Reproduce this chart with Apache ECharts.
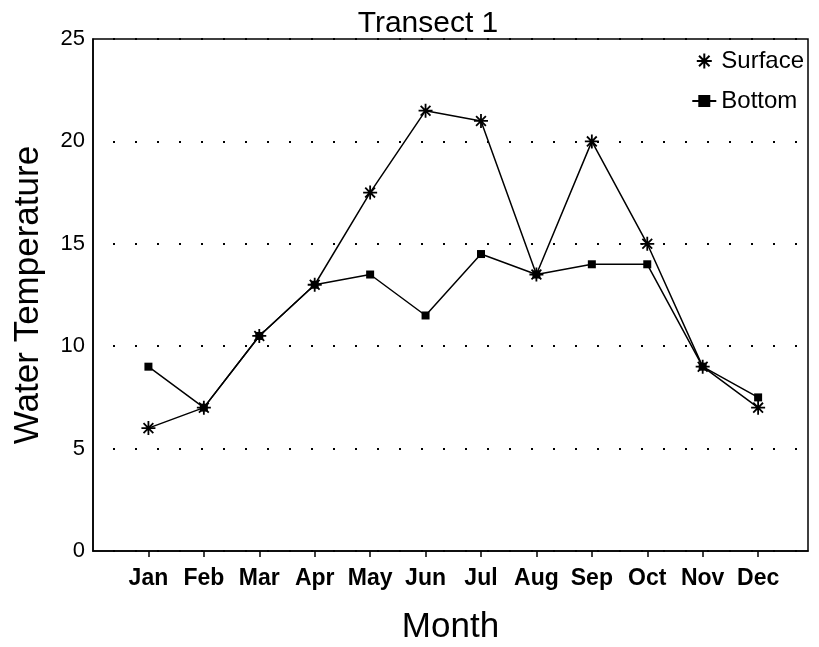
<!DOCTYPE html>
<html>
<head>
<meta charset="utf-8">
<script src="https://cdn.jsdelivr.net/npm/echarts@6/dist/echarts.min.js"></script>
<style>
	html,body{margin:0;padding:0;background:#fff;}
	#main{width:819px;height:647px;}
</style>
</head>
<body>
<div id="main"></div>
<script>
// 月份 与 两条曲线的数据
var months = ['Jan','Feb','Mar','Apr','May','Jun','Jul','Aug','Sep','Oct','Nov','Dec'];
var surface = [6, 7, 10.5, 13, 17.5, 21.5, 21, 13.5, 20, 15, 9, 7];
var bottom = [9, 7, 10.5, 13, 13.5, 11.5, 14.5, 13.5, 14, 14, 9, 7.5];
var yTicks = [0, 5, 10, 15, 20, 25];

var starPath = 'path://M5 0 L5 10 M0 5 L10 5 M1.5 1.5 L8.5 8.5 M8.5 1.5 L1.5 8.5';
var font = '"Liberation Sans", Arial, sans-serif';

function toPoints(arr){
	var res = [];
	for(var i = 0; i < arr.length; i++){
		res.push([i + 1, arr[i]]);
	}
	return res;
}

var chart = echarts.init(document.getElementById('main'));
var option = {
	backgroundColor: '#fff',
	animation: false,
	textStyle: { fontFamily: font, color: '#000' },
	title: {
		text: 'Transect 1',
		left: 423,
		textAlign: 'center',
		top: 4,
		textStyle: { fontSize: 30, fontWeight: 'normal', color: '#000', fontFamily: font }
	},
	legend: {
		orient: 'vertical',
		right: 10,
		top: 44,
		itemGap: 16,
		itemWidth: 24,
		itemHeight: 15,
		textStyle: { fontSize: 24, color: '#000', fontFamily: font },
		data: [
			{ name: 'Surface', icon: starPath },
			{ name: 'Bottom' }
		]
	},
	grid: {
		left: 93, right: 11, top: 39, bottom: 96,
		show: true,
		borderColor: '#000',
		borderWidth: 1.5,
		containLabel: false,
		outerBoundsMode: 'none'
	},
	xAxis: {
		type: 'value',
		min: 0,
		max: 12.9,
		interval: 1,
		name: 'Month',
		nameLocation: 'middle',
		nameGap: 59,
		nameTextStyle: { fontSize: 35, color: '#000', fontFamily: font },
		axisLine: { show: true, lineStyle: { color: '#000', width: 1.5 } },
		axisTick: { show: true, inside: false, length: 6, lineStyle: { color: '#000', width: 1.5 } },
		splitLine: { show: false },
		axisLabel: {
			margin: 16,
			fontSize: 23,
			fontWeight: 'bold',
			color: '#000',
			fontFamily: font,
			showMinLabel: false,
			showMaxLabel: false,
			formatter: function(v){
				return months[v - 1] || '';
			}
		}
	},
	yAxis: {
		type: 'value',
		min: 0,
		max: 25,
		interval: 5,
		name: 'Water Temperature',
		nameLocation: 'middle',
		nameGap: 47,
		nameTextStyle: { fontSize: 35, color: '#000', fontFamily: font },
		axisLine: { show: true, lineStyle: { color: '#000', width: 1.5 } },
		axisTick: { show: false },
		axisLabel: {
			margin: 8,
			fontSize: 22,
			color: '#000',
			fontFamily: font,
			formatter: function(v){
				return yTicks.indexOf(v) > -1 ? String(v) : '';
			}
		},
		splitLine: {
			show: true,
			lineStyle: { color: '#000', width: 2, type: [2, 20], dashOffset: 2 }
		}
	},
	series: [
		{
			name: 'Surface',
			type: 'line',
			data: toPoints(surface),
			symbol: starPath,
			symbolSize: 14,
			lineStyle: { color: '#000', width: 1.5 },
			itemStyle: { color: '#000', borderColor: '#000', borderWidth: 1.8 },
			z: 3
		},
		{
			name: 'Bottom',
			type: 'line',
			data: toPoints(bottom),
			symbol: 'rect',
			symbolSize: 8,
			lineStyle: { color: '#000', width: 1.5 },
			itemStyle: { color: '#000', borderColor: '#000', borderWidth: 0 },
			z: 2
		}
	]
};
chart.setOption(option);
</script>
</body>
</html>
